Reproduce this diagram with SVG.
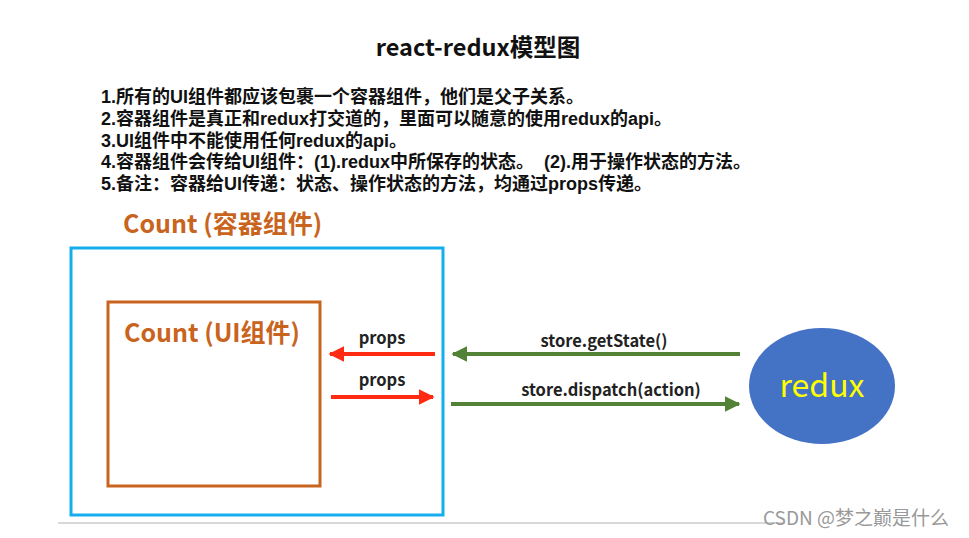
<svg xmlns="http://www.w3.org/2000/svg" width="969" height="538" viewBox="0 0 969 538">
<style>
text{font-family:"Microsoft YaHei","Noto Sans CJK SC","Noto Sans",sans-serif}
.title{font-size:23.5px;fill:#111;font-weight:bold}
.note{font-size:18px;fill:#111;font-weight:bold;font-family:"Liberation Sans","Noto Sans CJK SC",sans-serif}
.org{fill:#C9641E;font-weight:bold;font-size:25px}
.lbl{font-size:16.5px;fill:#222;font-weight:bold;text-anchor:middle}
.red{stroke:#FF2A12;stroke-width:4;fill:none}
.grn{stroke:#538135;stroke-width:4;fill:none}
</style>
<defs>
<marker id="mr" viewBox="0 0 10 10" refX="9" refY="5" markerWidth="4" markerHeight="4" orient="auto" markerUnits="strokeWidth"><path d="M0,0L10,5L0,10z" fill="#FF2A12"/></marker>
<marker id="mg" viewBox="0 0 10 10" refX="9" refY="5" markerWidth="4" markerHeight="4" orient="auto" markerUnits="strokeWidth"><path d="M0,0L10,5L0,10z" fill="#538135"/></marker>
</defs>
<rect width="969" height="538" fill="#fff"/>
<text class="title" x="478" y="56" text-anchor="middle">react-redux模型图</text>
<g id="notes">
<text class="note" x="101" y="103">1.所有的UI组件都应该包裹一个容器组件，他们是父子关系。</text>
<text class="note" x="101" y="125">2.容器组件是真正和redux打交道的，里面可以随意的使用redux的api。</text>
<text class="note" x="101" y="147">3.UI组件中不能使用任何redux的api。</text>
<text class="note" x="101" y="168">4.容器组件会传给UI组件：(1).redux中所保存的状态。&#160;&#160;(2).用于操作状态的方法。</text>
<text class="note" x="101" y="190">5.备注：容器给UI传递：状态、操作状态的方法，均通过props传递。</text>
</g>
<g id="container">
<text class="org" x="123" y="233">Count (容器组件)</text>
<rect x="71" y="248" width="372" height="267" fill="none" stroke="#14AEEF" stroke-width="3"/>
</g>
<g id="ui">
<rect x="108" y="302" width="212" height="184" fill="none" stroke="#C9641E" stroke-width="3"/>
<text class="org" x="124" y="342">Count (UI组件)</text>
</g>
<g id="redux">
<ellipse cx="822" cy="386" rx="73" ry="58" fill="#4472C4"/>
<text x="822" y="397" text-anchor="middle" font-size="32" fill="#FFFF00">redux</text>
</g>
<g id="connectors">
<line class="red" x1="435" y1="354" x2="330" y2="354" marker-end="url(#mr)"/>
<line class="red" x1="331" y1="397" x2="433" y2="397" marker-end="url(#mr)"/>
<line class="grn" x1="740" y1="354" x2="453" y2="354" marker-end="url(#mg)"/>
<line class="grn" x1="451" y1="404" x2="739" y2="404" marker-end="url(#mg)"/>
<text class="lbl" x="382" y="344">props</text>
<text class="lbl" x="382" y="386">props</text>
<text class="lbl" x="604" y="347">store.getState()</text>
<text class="lbl" x="611" y="396">store.dispatch(action)</text>
</g>
<line x1="58" y1="523" x2="785" y2="523" stroke="#ccc" stroke-width="1.5"/>
<text x="763" y="525" font-size="19" fill="#999" style="font-family:'Noto Sans CJK SC',sans-serif">CSDN @梦之巅是什么</text>
</svg>
